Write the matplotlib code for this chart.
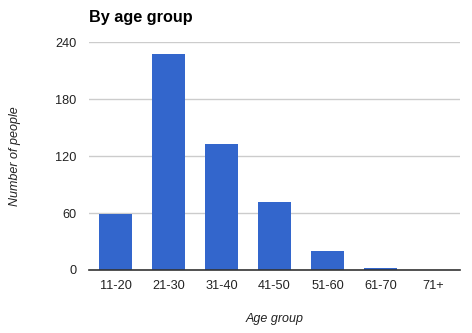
import matplotlib.pyplot as plt

# personas por grupo de edad
grupos = ['11-20', '21-30', '31-40', '41-50', '51-60', '61-70', '71+']
personas = [59, 228, 133, 72, 20, 2, 0]
ticks_y = [0, 60, 120, 180, 240]

plt.rcParams['font.family'] = ['Liberation Sans', 'DejaVu Sans']

fig = plt.figure(figsize=(4.72, 3.33), dpi=100)
ax = fig.add_axes([0.1886, 0.1892, 0.786, 0.684])

ax.bar(range(len(grupos)), personas, width=0.61, color='#3366CC', zorder=3)
ax.set_xlim(-0.5, len(grupos) - 0.5)
ax.set_ylim(0, 240)
ax.set_yticks(ticks_y)
ax.set_xticks(range(len(grupos)))
ax.set_xticklabels(grupos)

ax.grid(axis='y', color='#cccccc', linewidth=1, zorder=0)
for lado in ['top', 'right', 'left']:
    ax.spines[lado].set_visible(False)
ax.spines['bottom'].set_color('#333333')
ax.spines['bottom'].set_linewidth(1.2)
ax.spines['bottom'].set_zorder(4)
ax.tick_params(length=0, labelsize=9.2, labelcolor='#222222')
ax.tick_params(axis='y', pad=9)
ax.tick_params(axis='x', pad=7.5)

ax.set_xlabel('Age group', fontstyle='italic', fontsize=9, color='#222222', labelpad=15)
fig.text(0.032, 0.532, 'Number of people', rotation=90, fontstyle='italic',
         fontsize=9, color='#222222', ha='center', va='center')
fig.text(0.1886, 0.947, 'By age group', fontweight='bold', fontsize=11.7,
         color='#000000', ha='left', va='center')

plt.savefig('out.png', dpi=100)
